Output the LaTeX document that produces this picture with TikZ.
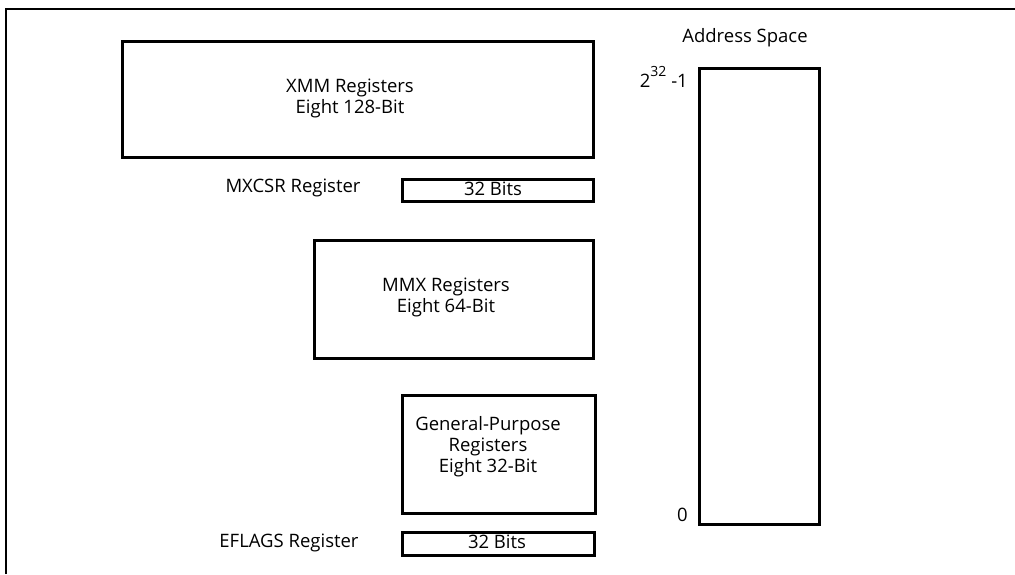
\documentclass[tikz,border=0pt]{standalone}
\usepackage{fontspec}
\setmainfont{Open Sans}
\begin{document}
\begin{tikzpicture}[x=1pt,y=-1pt,
  box/.style={draw, line width=2.5pt, anchor=north west, inner sep=0pt},
  lbl/.style={inner sep=0pt, align=center, font=\fontsize{18.5}{21}\selectfont}]
\useasboundingbox (0,0) rectangle (1015,574);
\draw[line width=2.7pt] (6,574) -- (6,9) -- (1015,9);
% XMM
\node[box, minimum width=471pt, minimum height=116pt] (xmm) at (121,40) {};
\node[lbl] (xmmt) at (350,98) {XMM Registers\\Eight 128-Bit};
% MXCSR
\node[lbl] (mxcsrl) at (293,188) {MXCSR Register};
\node[box, minimum width=191pt, minimum height=22pt] (mxcsr) at (401,178) {};
\node[lbl] (mxcsrt) at (493,189) {32 Bits};
% MMX
\node[box, minimum width=279pt, minimum height=118pt] (mmx) at (313,239) {};
\node[lbl] (mmxt) at (446,297) {MMX Registers\\Eight 64-Bit};
% GP
\node[box, minimum width=193pt, minimum height=118pt] (gp) at (401,394) {};
\node[lbl] (gpt) at (488,447) {General-Purpose\\Registers\\Eight 32-Bit};
% EFLAGS
\node[lbl] (eflagsl) at (289,543) {EFLAGS Register};
\node[box, minimum width=192pt, minimum height=23pt] (eflags) at (401,531) {};
\node[lbl] (eflagst) at (497,542) {32 Bits};
% Address space
\node[box, minimum width=120pt, minimum height=456pt] (addr) at (698,67) {};
\node[lbl] (addrl) at (745,38) {Address Space};
\node[lbl, anchor=east] (top) at (688,77) {2\raisebox{0.62em}{\fontsize{14}{14}\selectfont 32} -1};
\node[lbl, anchor=east] (zero) at (688,515) {0};
\end{tikzpicture}
\end{document}
